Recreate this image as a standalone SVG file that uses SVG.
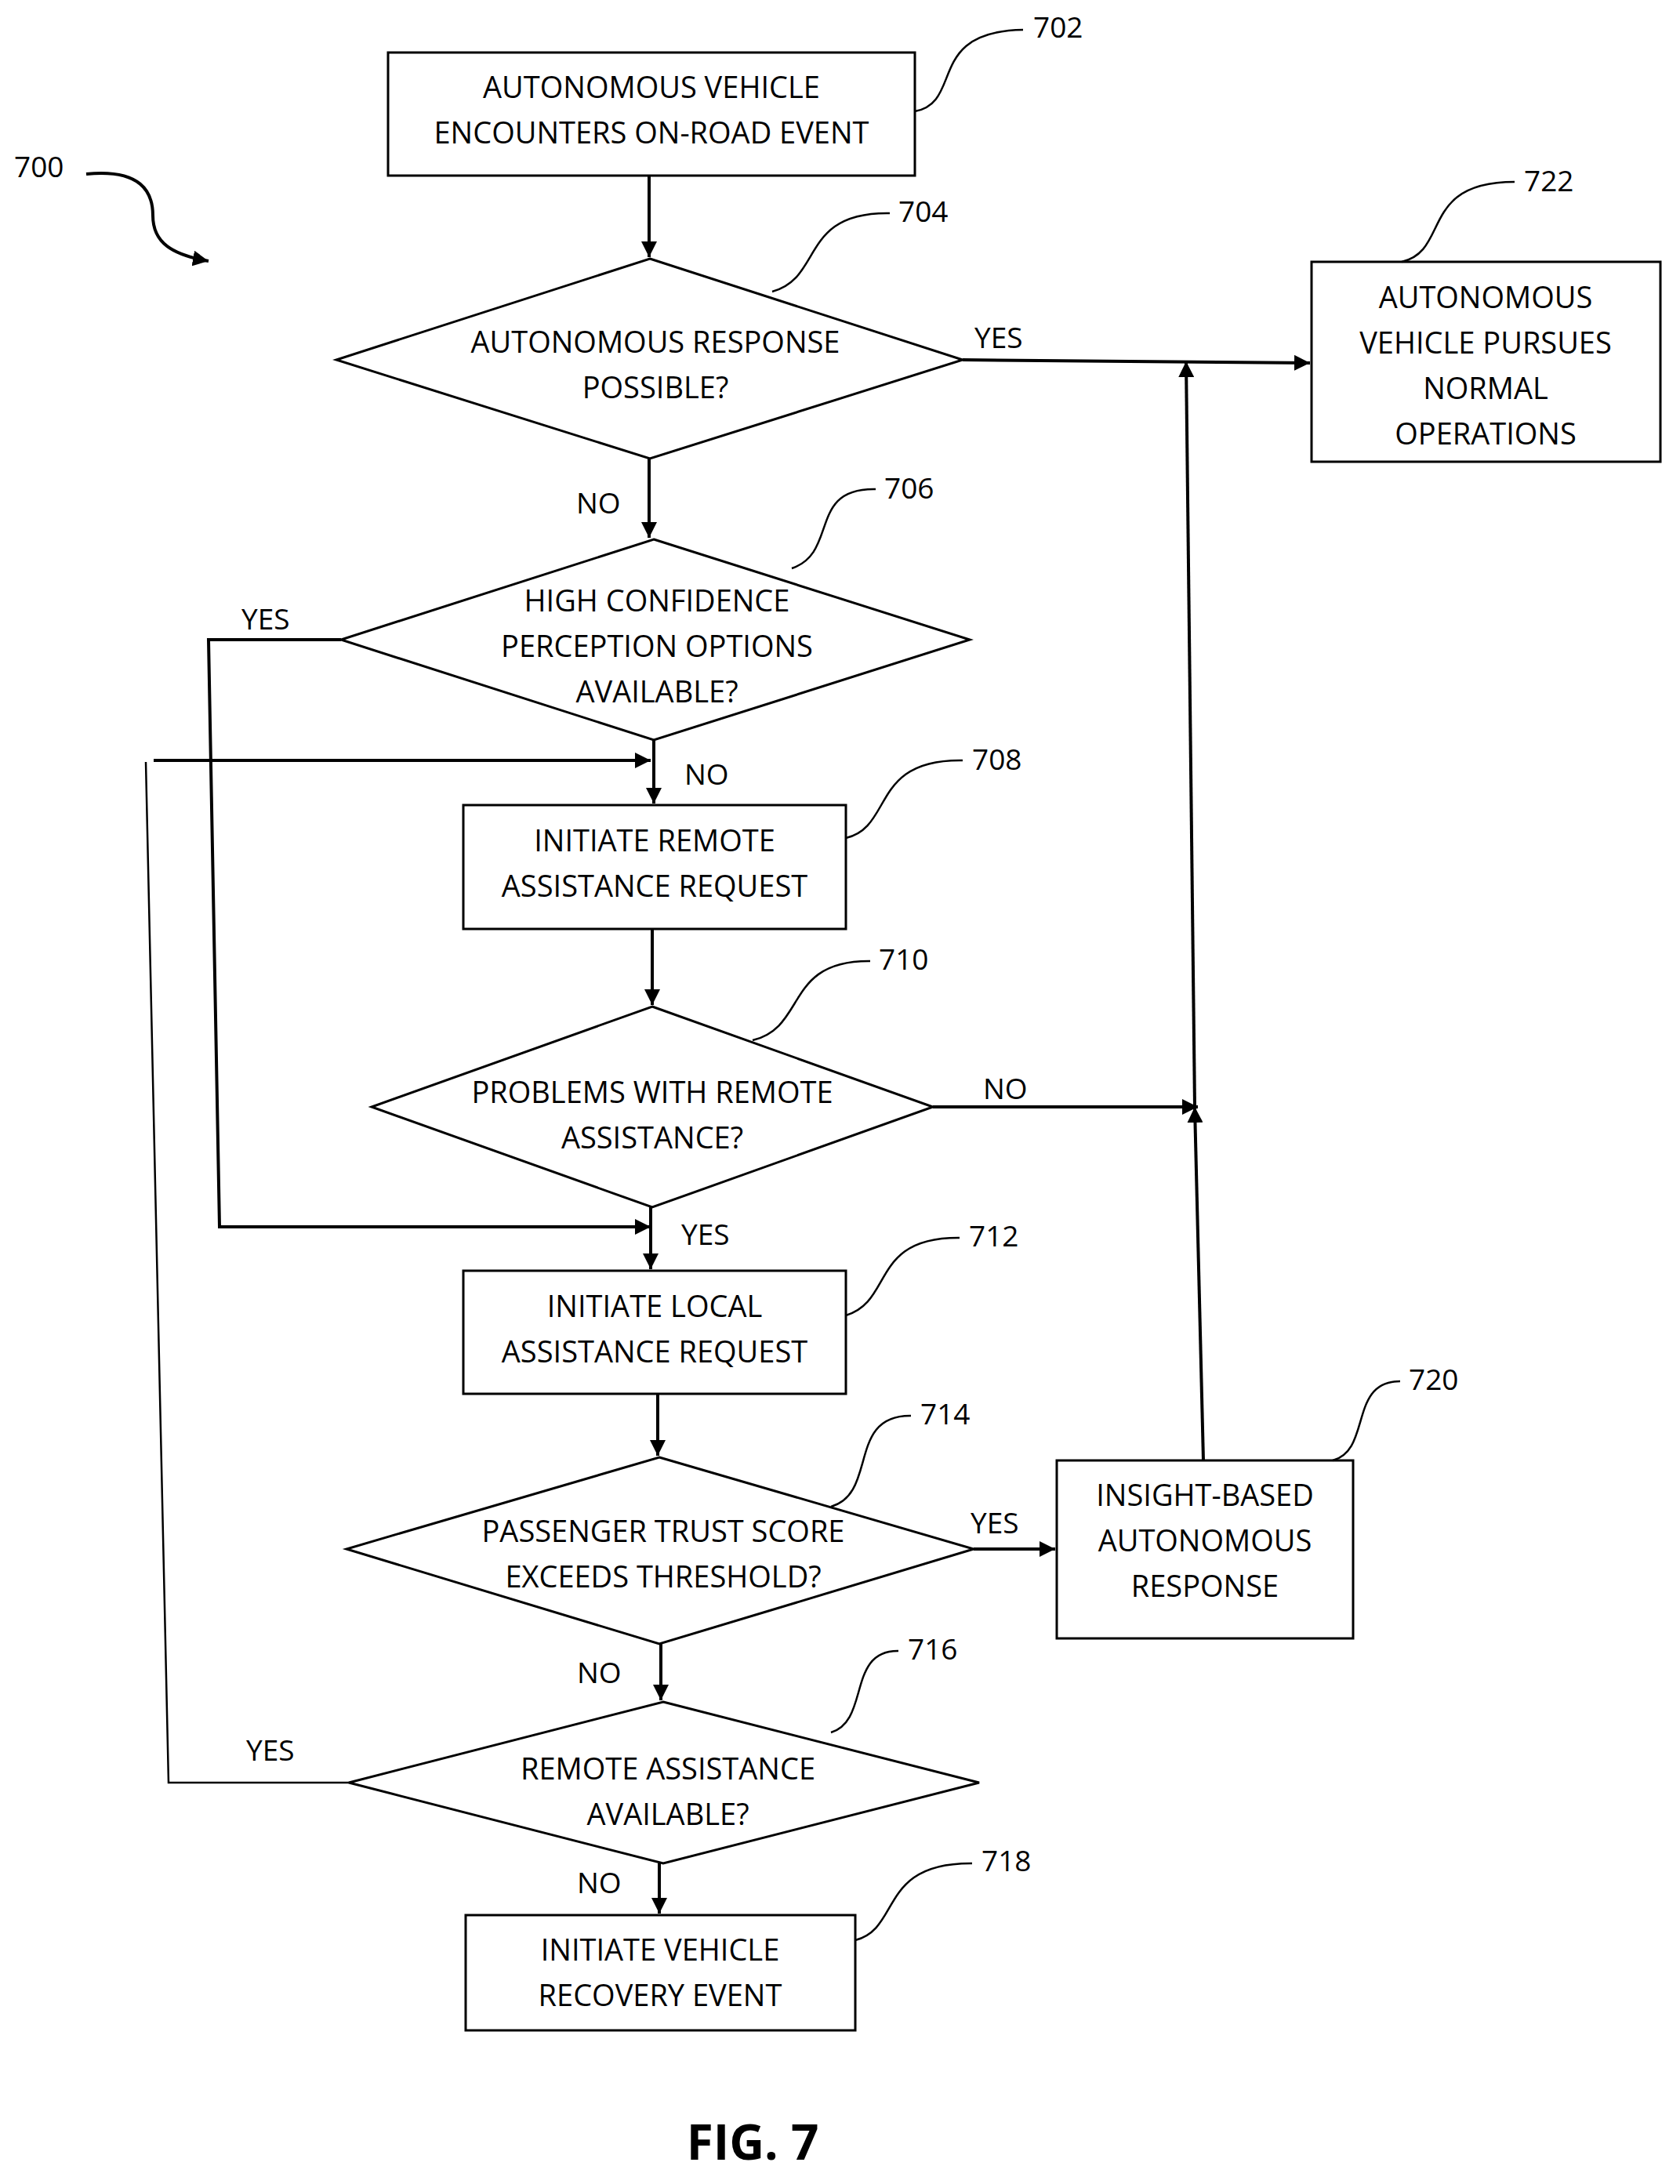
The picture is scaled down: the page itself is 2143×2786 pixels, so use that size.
<svg xmlns="http://www.w3.org/2000/svg" width="2143" height="2786" viewBox="0 0 2143 2786">
<style>
.n{fill:#fff;stroke:#000;stroke-width:3}
.t{font-family:"Open Sans","Liberation Sans",sans-serif;font-size:38px;text-anchor:middle;fill:#000}
.l{font-family:"Open Sans","Liberation Sans",sans-serif;font-size:37px;fill:#000}
.c{fill:none;stroke:#000;stroke-width:4}
.ld{fill:none;stroke:#000;stroke-width:2.5}
</style>
<defs><marker id="a" viewBox="0 0 10 10" refX="10" refY="5" markerWidth="5" markerHeight="5" orient="auto"><path d="M0,0L10,5L0,10z"/></marker></defs>
<rect width="2143" height="2786" fill="#fff"/>
<g id="connectors">
<path class="c" d="M828,224V328" marker-end="url(#a)"/>
<path class="c" d="M1228,459L1671,463" marker-end="url(#a)"/>
<path class="c" d="M1535,1863L1524,1412" marker-end="url(#a)"/>
<path class="c" d="M1524,1412L1513,461" marker-end="url(#a)"/>
<path class="c" d="M1190,1412H1528" marker-end="url(#a)"/>
<path class="c" d="M828,585V686" marker-end="url(#a)"/>
<path class="c" d="M435,816H266L280,1565H830" marker-end="url(#a)"/>
<path class="c" d="M830,1540V1619" marker-end="url(#a)"/>
<path class="ld" d="M445,2274H215L186,972"/>
<path class="c" d="M196,970H830" marker-end="url(#a)"/>
<path class="c" d="M834,944V1025" marker-end="url(#a)"/>
<path class="c" d="M832,1185V1282" marker-end="url(#a)"/>
<path class="c" d="M839,1778V1857" marker-end="url(#a)"/>
<path class="c" d="M1242,1976H1346" marker-end="url(#a)"/>
<path class="c" d="M843,2097V2169" marker-end="url(#a)"/>
<path class="c" d="M841,2377V2441" marker-end="url(#a)"/>
<path class="c" d="M110,222C180,215 195,245 195,275C195,310 220,325 266,333" marker-end="url(#a)"/>
</g>
<g id="n702"><rect class="n" x="495" y="67" width="672" height="157"/><text class="t" x="831" y="125">AUTONOMOUS VEHICLE</text><text class="t" x="831" y="183">ENCOUNTERS ON-ROAD EVENT</text></g>
<g id="n704"><polygon class="n" points="829,330 1228,459 829,585 429,459"/><text class="t" x="836" y="450">AUTONOMOUS RESPONSE</text><text class="t" x="836" y="508">POSSIBLE?</text></g>
<g id="n722"><rect class="n" x="1673" y="334" width="445" height="255"/><text class="t" x="1895" y="393">AUTONOMOUS</text><text class="t" x="1895" y="451">VEHICLE PURSUES</text><text class="t" x="1895" y="509">NORMAL</text><text class="t" x="1895" y="567">OPERATIONS</text></g>
<g id="n706"><polygon class="n" points="834,688 1237,816 834,944 435,816"/><text class="t" x="838" y="780">HIGH CONFIDENCE</text><text class="t" x="838" y="838">PERCEPTION OPTIONS</text><text class="t" x="838" y="896">AVAILABLE?</text></g>
<g id="n708"><rect class="n" x="591" y="1027" width="488" height="158"/><text class="t" x="835" y="1086">INITIATE REMOTE</text><text class="t" x="835" y="1144">ASSISTANCE REQUEST</text></g>
<g id="n710"><polygon class="n" points="832,1284 1190,1412 832,1540 474,1412"/><text class="t" x="832" y="1407">PROBLEMS WITH REMOTE</text><text class="t" x="832" y="1465">ASSISTANCE?</text></g>
<g id="n712"><rect class="n" x="591" y="1621" width="488" height="157"/><text class="t" x="835" y="1680">INITIATE LOCAL</text><text class="t" x="835" y="1738">ASSISTANCE REQUEST</text></g>
<g id="n714"><polygon class="n" points="841,1859 1242,1976 841,2097 442,1976"/><text class="t" x="846" y="1967">PASSENGER TRUST SCORE</text><text class="t" x="846" y="2025">EXCEEDS THRESHOLD?</text></g>
<g id="n720"><rect class="n" x="1348" y="1863" width="378" height="227"/><text class="t" x="1537" y="1921">INSIGHT-BASED</text><text class="t" x="1537" y="1979">AUTONOMOUS</text><text class="t" x="1537" y="2037">RESPONSE</text></g>
<g id="n716"><polygon class="n" points="846,2171 1249,2274 846,2377 445,2274"/><text class="t" x="852" y="2270">REMOTE ASSISTANCE</text><text class="t" x="852" y="2328">AVAILABLE?</text></g>
<g id="n718"><rect class="n" x="594" y="2443" width="497" height="147"/><text class="t" x="842" y="2501">INITIATE VEHICLE</text><text class="t" x="842" y="2559">RECOVERY EVENT</text></g>
<g id="labels">
<text class="l" x="1243" y="444">YES</text>
<text class="l" x="735" y="655">NO</text>
<text class="l" x="308" y="803">YES</text>
<text class="l" x="873" y="1001">NO</text>
<text class="l" x="1254" y="1402">NO</text>
<text class="l" x="869" y="1588">YES</text>
<text class="l" x="1238" y="1956">YES</text>
<text class="l" x="736" y="2147">NO</text>
<text class="l" x="314" y="2246">YES</text>
<text class="l" x="736" y="2415">NO</text>
<text class="l" x="18" y="226">700</text>
<text class="l" x="1318" y="48">702</text>
<text class="l" x="1146" y="283">704</text>
<text class="l" x="1944" y="244">722</text>
<text class="l" x="1128" y="636">706</text>
<text class="l" x="1240" y="982">708</text>
<text class="l" x="1121" y="1237">710</text>
<text class="l" x="1236" y="1590">712</text>
<text class="l" x="1174" y="1817">714</text>
<text class="l" x="1797" y="1773">720</text>
<text class="l" x="1158" y="2117">716</text>
<text class="l" x="1252" y="2387">718</text>
<text x="960" y="2755" style="font-family:'Open Sans','Liberation Sans',sans-serif;font-size:62px;font-weight:bold;text-anchor:middle">FIG. 7</text>
</g>
<g id="leaders">
<path class="ld" d="M1167,142C1230,130 1180,40 1305,38"/>
<path class="ld" d="M985,372C1050,355 1020,270 1135,272"/>
<path class="ld" d="M1788,334C1850,320 1810,232 1932,232"/>
<path class="ld" d="M1010,725C1070,705 1030,622 1117,624"/>
<path class="ld" d="M1079,1069C1140,1055 1110,968 1228,970"/>
<path class="ld" d="M960,1327C1030,1310 1000,1225 1110,1226"/>
<path class="ld" d="M1079,1678C1140,1660 1110,1578 1224,1579"/>
<path class="ld" d="M1060,1922C1120,1905 1080,1805 1162,1806"/>
<path class="ld" d="M1700,1863C1750,1850 1720,1762 1786,1762"/>
<path class="ld" d="M1060,2210C1110,2195 1080,2105 1146,2106"/>
<path class="ld" d="M1091,2475C1150,2460 1120,2376 1240,2377"/>
</g>
</svg>
